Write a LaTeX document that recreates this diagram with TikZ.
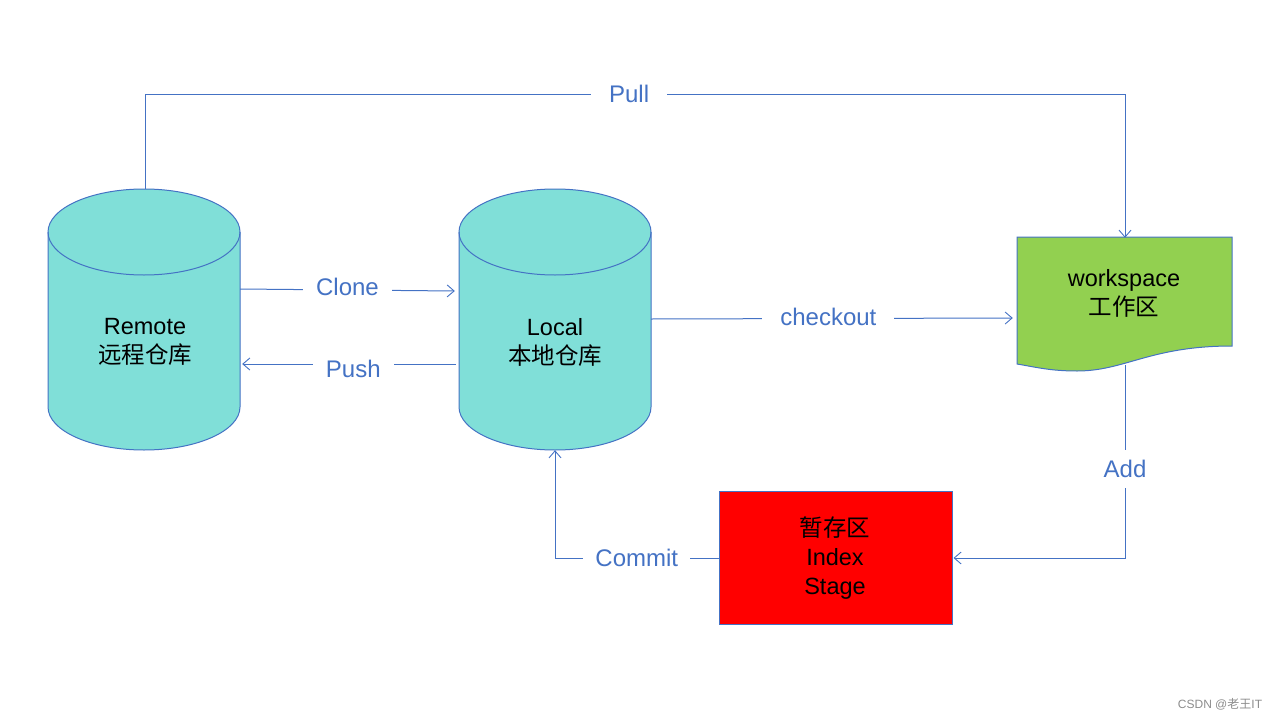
\documentclass[tikz,border=0pt]{standalone}
\usepackage{fontspec}
\setmainfont{Liberation Sans}
\newfontfamily\cjk{Noto Sans CJK SC}
\usetikzlibrary{arrows.meta}
\definecolor{lineblue}{HTML}{4472C4}
\definecolor{cylfill}{HTML}{80DFD8}
\definecolor{wsgreen}{HTML}{92D050}
\begin{document}
\begin{tikzpicture}[x=1pt,y=-1pt,
  conn/.style={draw=lineblue, line width=1pt},
  tip/.style={-{Straight Barb[length=7pt,width=12pt,line width=0.9pt]}},
  lbl/.style={fill=white, text=lineblue, font=\fontsize{24}{28}\selectfont, inner xsep=13pt, inner ysep=8pt},
  blk/.style={text=black, font=\fontsize{23.5}{29}\selectfont, align=center},
  cylshape/.style={fill=cylfill, draw=lineblue, line width=1pt}]
\useasboundingbox (0,0) rectangle (1280,720);
% Remote cylinder
\path[cylshape] (48,232) -- (48,407) arc (180:360:96pt and 43pt) -- (240,232) arc (0:180:96pt and 43pt) -- cycle;
\draw[lineblue, line width=1pt] (48,232) arc (180:360:96pt and 43pt);
\node[minimum width=192pt, minimum height=261pt, inner sep=0pt] (remote) at (144,319.5) {};
\node[blk] (remotetxt) at (145,342) {Remote\\{\cjk 远程仓库}};
% Local cylinder
\path[cylshape] (459,232) -- (459,407) arc (180:360:96pt and 43pt) -- (651,232) arc (0:180:96pt and 43pt) -- cycle;
\draw[lineblue, line width=1pt] (459,232) arc (180:360:96pt and 43pt);
\node[minimum width=192pt, minimum height=261pt, inner sep=0pt] (local) at (555,319.5) {};
\node[blk] (localtxt) at (555,342) {Local\\{\cjk 本地仓库}};
% Workspace document
\path[fill=wsgreen, draw=lineblue, line width=1pt] (1017,237) -- (1232,237) -- (1232,346)
  .. controls (1150,346) and (1125,371) .. (1077,371)
  .. controls (1050,371) and (1035,367) .. (1017,364) -- cycle;
\node[minimum width=215pt, minimum height=128pt, inner sep=0pt] (ws) at (1124.5,301) {};
\node[blk] (wstxt) at (1124,293) {workspace\\{\cjk 工作区}};
\coordinate (wsbot) at (1125,365);
% Stage
\node[fill=red, draw=lineblue, line width=1pt, minimum width=233pt, minimum height=133pt, inner sep=0pt] (stage) at (835.5,557.5) {};
\node[blk] (stagetxt) at (835,558) {{\cjk 暂存区}\\Index\\Stage};
% Connectors
\draw[conn, tip] (remote.north -| 145,0) -- (145,94) -- node[lbl, pos=0.494, inner xsep=18pt] {Pull} (1125,94) -- ([yshift=-1pt]ws.north -| 1125,0);
\draw[conn, tip] (remote.east |- 0,289) -- node[lbl, pos=0.5, yshift=3pt] {Clone} ([xshift=-4pt]local.west |- 0,291);
\draw[conn, tip] ([xshift=-3pt]local.west |- 0,364) -- node[lbl, pos=0.48, yshift=-5pt, inner ysep=3pt] {Push} ([xshift=2pt]remote.east |- 0,364);
\draw[conn, tip] (local.east |- 0,319) -- node[lbl, pos=0.49, inner xsep=18pt, yshift=2pt] {checkout} ([xshift=-4pt]ws.west |- 0,318);
\draw[conn, tip] (wsbot) -- node[lbl, pos=0.54, inner xsep=4pt, inner ysep=10pt] {Add} (1125,558) -- ([xshift=1pt]stage.east |- 0,558);
\draw[conn, tip] (stage.west |- 0,558) -- node[lbl, pos=0.5, inner xsep=12pt] {Commit} (555,558) -- (local.south -| 555,0);
% watermark
\node[text=black!45, font=\fontsize{12}{14}\selectfont] (wm) at (1220,704) {CSDN @{\cjk 老王}IT};
\end{tikzpicture}
\end{document}
